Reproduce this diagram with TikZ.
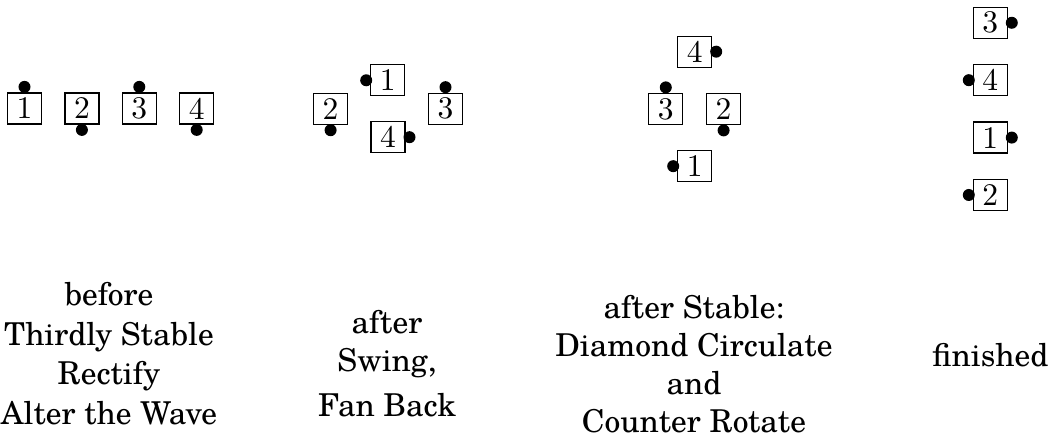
\documentclass[tikz,border=0pt]{standalone}
\usepackage{fontspec}
\newfontfamily\schola{TeX Gyre Schola}
\usetikzlibrary{calc}
\begin{document}
\begin{tikzpicture}[x=0.3175pt,y=-0.3175pt,
  dancer/.style={draw, line width=0.4pt, inner sep=0pt,
    minimum width=34*0.3175pt, minimum height=31*0.3175pt},
  dot/.style={circle, fill=black, inner sep=0pt, minimum size=12*0.3175pt},
  caption/.style={align=center, anchor=north, inner sep=0pt}]
\useasboundingbox (0,0) rectangle (1055,436);
% group 1
\node[dancer] (a1) at (24.5,108.4) {1};
\node[dancer] (a2) at (81.9,108.4) {2};
\node[dancer] (a3) at (139.3,108.4) {3};
\node[dancer] (a4) at (196.7,108.4) {4};
\node[dot] (a1d) at ($(a1)+(0,-21.5)$) {};
\node[dot] (a2d) at ($(a2)+(0,21.5)$) {};
\node[dot] (a3d) at ($(a3)+(0,-21.5)$) {};
\node[dot] (a4d) at ($(a4)+(0,21.5)$) {};
% group 2
\node[dancer] (b1) at (387.7,80.3) {1};
\node[dancer] (b2) at (330.6,108.7) {2};
\node[dancer] (b3) at (445.5,108.7) {3};
\node[dancer] (b4) at (388,137.2) {4};
\node[dot] (b1d) at ($(b1)+(-21.5,0)$) {};
\node[dot] (b2d) at ($(b2)+(0,21.5)$) {};
\node[dot] (b3d) at ($(b3)+(0,-21.5)$) {};
\node[dot] (b4d) at ($(b4)+(21.5,0)$) {};
% group 3
\node[dancer] (c4) at (694.7,51.7) {4};
\node[dancer] (c3) at (665.8,108.9) {3};
\node[dancer] (c2) at (723.6,108.9) {2};
\node[dancer] (c1) at (694.7,166.2) {1};
\node[dot] (c4d) at ($(c4)+(21.5,0)$) {};
\node[dot] (c3d) at ($(c3)+(0,-21.5)$) {};
\node[dot] (c2d) at ($(c2)+(0,21.5)$) {};
\node[dot] (c1d) at ($(c1)+(-21.5,0)$) {};
% group 4
\node[dancer] (d3) at (990.3,22.8) {3};
\node[dancer] (d4) at (990.3,80.2) {4};
\node[dancer] (d1) at (990.3,137.6) {1};
\node[dancer] (d2) at (990.3,195) {2};
\node[dot] (d3d) at ($(d3)+(21.5,0)$) {};
\node[dot] (d4d) at ($(d4)+(-21.5,0)$) {};
\node[dot] (d1d) at ($(d1)+(21.5,0)$) {};
\node[dot] (d2d) at ($(d2)+(-21.5,0)$) {};
% captions
\node[caption, font={\schola\fontsize{10pt}{12.6pt}\selectfont}] (t1) at (109,281.7)
  {before\\Thirdly Stable\\Rectify\\Alter the Wave};
\node[caption, font={\schola\fontsize{10pt}{12.1pt}\selectfont}] (t2) at (387,309.3)
  {after\\Swing,\\[2.2pt]Fan Back};
\node[caption, font={\schola\fontsize{10pt}{12pt}\selectfont}] (t3) at (694,295)
  {after Stable:\\Diamond Circulate\\and\\Counter Rotate};
\node[caption, font={\schola\fontsize{10pt}{12pt}\selectfont}] (t4) at (990.5,342.7)
  {finished};
\end{tikzpicture}
\end{document}
